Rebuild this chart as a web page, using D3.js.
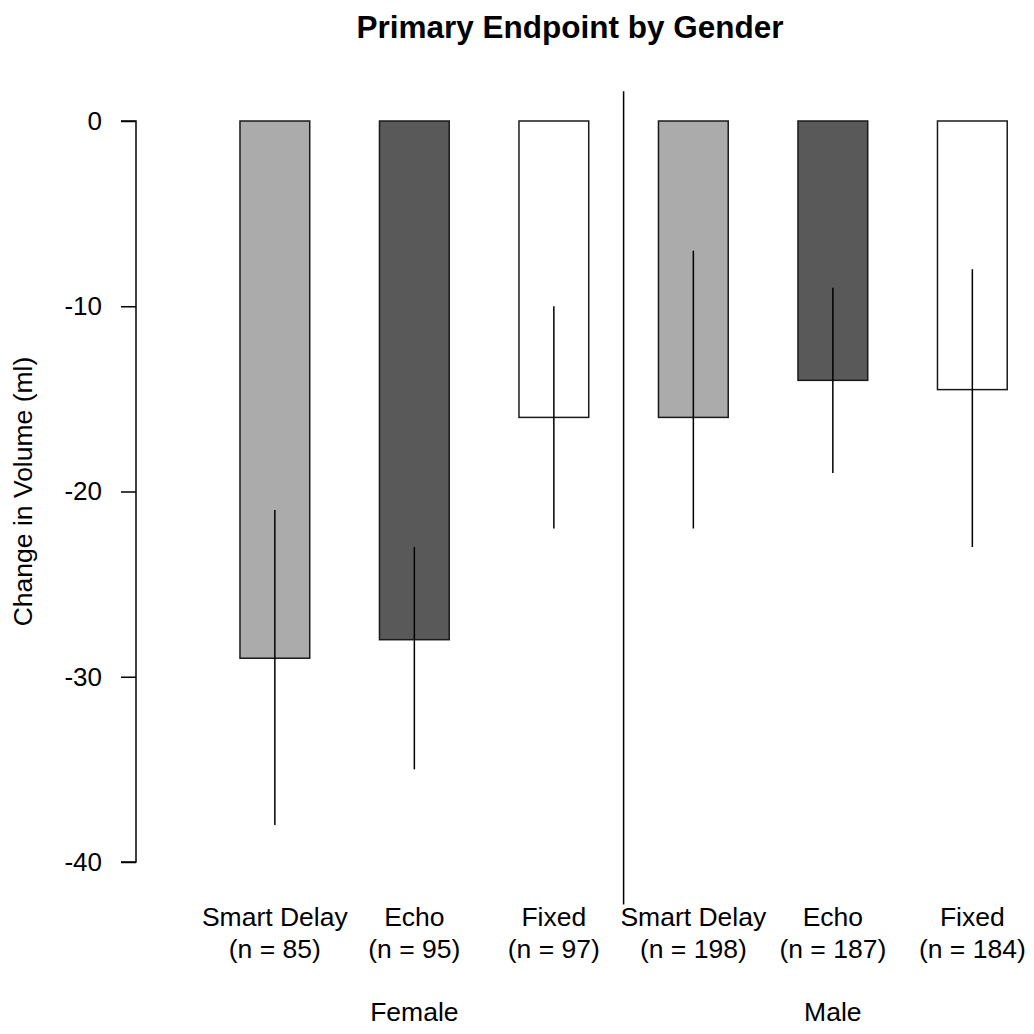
<!DOCTYPE html>
<html>
<head>
<meta charset="utf-8">
<script src="https://cdn.jsdelivr.net/npm/d3@7"></script>
<style>
  body { margin: 0; background: #fff; }
  text { font-family: "Liberation Sans", Arial, sans-serif; fill: #000; }
</style>
</head>
<body>
<div id="chart"></div>
<script>
// data
var treatments = ["Smart Delay", "Echo", "Fixed", "Smart Delay", "Echo", "Fixed"];
var counts = [85, 95, 97, 198, 187, 184];
var genders = ["Female", "Male"];
var means = [-29, -28, -16, -16, -14, -14.5];
var upper = [-21, -23, -10, -7, -9, -8];
var lower = [-38, -35, -22, -22, -19, -23];
var fills = ["#ababab", "#595959", "#ffffff", "#ababab", "#595959", "#ffffff"];
var yTicks = [0, -10, -20, -30, -40];

var svgWidth = 1034;
var svgHeight = 1034;

var svg = d3.select("#chart")
    .append("svg")
    .attr("width", svgWidth)
    .attr("height", svgHeight);

//scales
var xScale = d3.scaleBand()
    .domain(d3.range(treatments.length))
    .range([205.1, 1042.1])
    .paddingInner(0.5)
    .paddingOuter(0.25);

var yScale = d3.scaleLinear()
    .domain([0, -40])
    .range([121, 862]);

//title
svg.append("text")
    .attr("x", 570)
    .attr("y", 38)
    .attr("text-anchor", "middle")
    .attr("font-size", 31.5)
    .attr("font-weight", "bold")
    .text("Primary Endpoint by Gender");

//y axis
var leftAxis = d3.axisLeft(yScale)
    .tickValues(yTicks)
    .tickFormat(d => String(d))
    .tickSize(15)
    .tickPadding(19);

var yAxis = svg.append("g")
    .attr("transform", "translate(136,0)")
    .call(leftAxis);
yAxis.select(".domain").attr("d", "M-15," + yScale(0) + "H0V" + yScale(-40) + "H-15")
    .attr("stroke", "#000").attr("stroke-width", 1.5);
yAxis.selectAll(".tick line").attr("stroke", "#000").attr("stroke-width", 1.5);
yAxis.selectAll(".tick text")
    .attr("font-size", 26)
    .attr("font-family", "Liberation Sans, Arial, sans-serif")
    .attr("fill", "#000");

svg.append("text")
    .attr("transform", "translate(32," + yScale(-20) + ")rotate(-90)")
    .attr("text-anchor", "middle")
    .attr("font-size", 26.5)
    .text("Change in Volume (ml)");

//bars
svg.selectAll("rect.bar")
    .data(means)
    .enter()
    .append("rect")
    .attr("class", "bar")
    .attr("x", (d, i) => xScale(i))
    .attr("y", yScale(0))
    .attr("width", xScale.bandwidth())
    .attr("height", d => yScale(d) - yScale(0))
    .attr("fill", (d, i) => fills[i])
    .attr("stroke", "#1a1a1a")
    .attr("stroke-width", 1.5);

//error bars
svg.selectAll("line.err")
    .data(means)
    .enter()
    .append("line")
    .attr("class", "err")
    .attr("x1", (d, i) => xScale(i) + xScale.bandwidth() / 2)
    .attr("x2", (d, i) => xScale(i) + xScale.bandwidth() / 2)
    .attr("y1", (d, i) => yScale(upper[i]))
    .attr("y2", (d, i) => yScale(lower[i]))
    .attr("stroke", "#000")
    .attr("stroke-width", 1.5);

//divider between genders
var midX = (xScale(2) + xScale(3) + xScale.bandwidth()) / 2;
svg.append("line")
    .attr("x1", midX).attr("x2", midX)
    .attr("y1", yScale(1.6))
    .attr("y2", yScale(-42.3))
    .attr("stroke", "#000")
    .attr("stroke-width", 1.5);

//category labels
var labels = svg.selectAll("text.cat")
    .data(treatments)
    .enter()
    .append("text")
    .attr("class", "cat")
    .attr("text-anchor", "middle")
    .attr("font-size", 26.5)
    .attr("x", (d, i) => xScale(i) + xScale.bandwidth() / 2);
labels.append("tspan")
    .attr("x", (d, i) => xScale(i) + xScale.bandwidth() / 2)
    .attr("y", 926)
    .text(d => d);
labels.append("tspan")
    .attr("x", (d, i) => xScale(i) + xScale.bandwidth() / 2)
    .attr("y", 958)
    .text((d, i) => "(n = " + counts[i] + ")");

//gender labels under the middle bar of each group
svg.selectAll("text.gender")
    .data(genders)
    .enter()
    .append("text")
    .attr("class", "gender")
    .attr("text-anchor", "middle")
    .attr("font-size", 26.5)
    .attr("x", (d, i) => xScale(i * 3 + 1) + xScale.bandwidth() / 2)
    .attr("y", 1021)
    .text(d => d);
</script>
</body>
</html>
